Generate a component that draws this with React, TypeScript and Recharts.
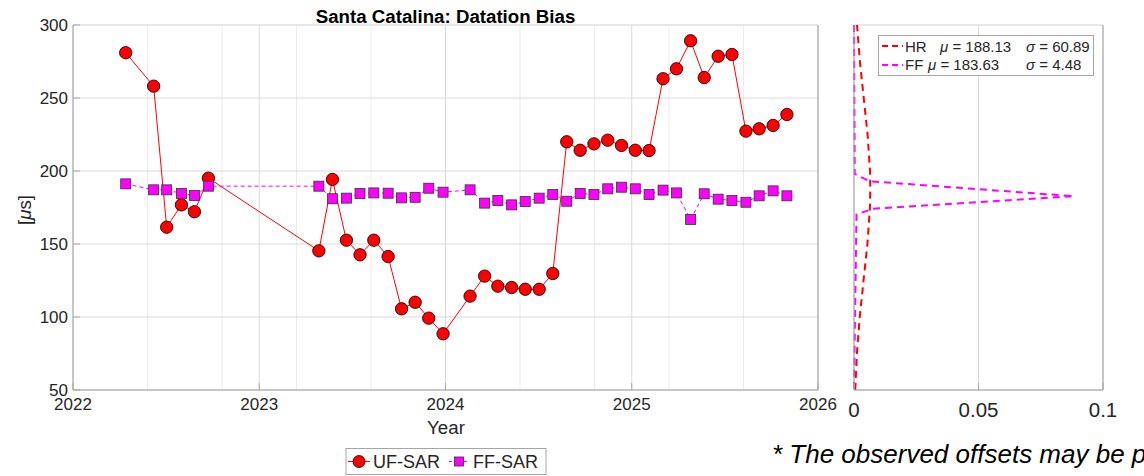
import { CartesianGrid, Line, LineChart, XAxis, YAxis } from "recharts";

// acquisition dates (decimal year) shared by both series
const dates = [
  2022.283, 2022.433, 2022.503, 2022.582, 2022.652, 2022.727, 2023.32, 2023.393,
  2023.468, 2023.541, 2023.615, 2023.692, 2023.764, 2023.837, 2023.91, 2023.987,
  2024.132, 2024.21, 2024.281, 2024.355, 2024.428, 2024.503, 2024.576, 2024.651,
  2024.723, 2024.797, 2024.871, 2024.945, 2025.019, 2025.093, 2025.168, 2025.24,
  2025.316, 2025.389, 2025.464, 2025.538, 2025.613, 2025.684, 2025.759, 2025.833,
];
const ufSar = [
  281.0, 258.1, 161.5, 176.8, 172.1, 195.1, 145.3, 194.2, 152.6, 142.6, 152.6, 141.4,
  105.6, 110.1, 99.2, 88.5, 114.3, 128.0, 121.1, 120.2, 119.0, 119.0, 129.8, 220.0,
  214.2, 218.6, 221.1, 217.5, 214.2, 214.0, 263.2, 270.0, 289.2, 264.0, 278.6, 279.8,
  227.3, 228.9, 231.2, 238.7,
];
const ffSar = [
  191.2, 187.1, 187.1, 184.6, 183.2, 189.6, 189.6, 181.0, 181.4, 184.6, 185.0, 184.8,
  181.6, 182.0, 188.2, 185.5, 187.1, 178.0, 179.8, 176.8, 179.1, 181.4, 183.9, 179.3,
  184.6, 183.9, 187.8, 188.9, 187.8, 183.9, 186.9, 185.0, 166.8, 184.4, 180.7, 179.8,
  178.6, 183.0, 186.4, 183.0,
];

const yearTicks = [2022, 2023, 2024, 2025, 2026];
const minorYearTicks = [
  2022, 2022.2, 2022.4, 2022.6, 2022.8, 2023, 2023.2, 2023.4, 2023.6, 2023.8, 2024,
  2024.2, 2024.4, 2024.6, 2024.8, 2025, 2025.2, 2025.4, 2025.6, 2025.8, 2026,
];
const biasTicks = [50, 100, 150, 200, 250, 300];
const minorBiasTicks = [
  50, 60, 70, 80, 90, 100, 110, 120, 130, 140, 150, 160, 170, 180, 190, 200, 210, 220,
  230, 240, 250, 260, 270, 280, 290, 300,
];
const densityTicks = [0, 0.05, 0.1];
const minorDensityTicks = [0, 0.01, 0.02, 0.03, 0.04, 0.05, 0.06, 0.07, 0.08, 0.09, 0.1];

// distribution curves
const hrLevels = [50, 75, 100, 125, 150, 175, 188, 200, 225, 250, 275, 300];
const hrDensity = [
  0.0005, 0.00117, 0.0023, 0.00383, 0.00538, 0.0064, 0.00655, 0.00643, 0.00545, 0.00391,
  0.00237, 0.00121,
];
const ffLevels = [300, 198, 193, 182.8, 174.2, 170.3, 50];
const ffDensity = [0, 0.0003, 0.0063, 0.0882, 0.0077, 0.001, 0];

const mainData = dates.map((t, i) => ({ t, uf: ufSar[i], ff: ffSar[i] }));
const hrCurve = hrLevels.map((y, i) => ({ y, d: hrDensity[i] }));
const ffCurve = ffLevels.map((y, i) => ({ y, d: ffDensity[i] }));

const font = "'Liberation Sans', Arial, sans-serif";
const axisColor = "#a6a6a6";
const textColor = "#262626";
const gridMajor = "#dadada";
const gridMinor = "#ebebeb";

const SquareDot = (props: any) => {
  const { cx, cy, index } = props;
  if (cx == null || cy == null) return <g key={`sq-${index}`} />;
  return (
    <rect
      key={`sq-${index}`}
      x={cx - 5}
      y={cy - 5}
      width={10}
      height={10}
      fill="#ff00ff"
      stroke="#333"
      strokeWidth={0.8}
    />
  );
};

export default function App() {
  return (
    <div
      style={{
        position: "fixed",
        left: 0,
        top: 0,
        width: 1144,
        height: 476,
        overflow: "hidden",
        background: "#fff",
        fontFamily: font,
      }}
    >
      <div style={{ position: "absolute", left: 0, top: 0 }}>
        <LineChart
          width={840}
          height={440}
          data={mainData}
          margin={{ top: 25, right: 0, bottom: 0, left: 0 }}
        >
          <XAxis xAxisId="minor" type="number" dataKey="t" domain={[2022, 2026]} ticks={minorYearTicks} hide />
          <YAxis yAxisId="minor" type="number" domain={[50, 300]} ticks={minorBiasTicks} hide />
          <CartesianGrid xAxisId="minor" yAxisId="minor" stroke={gridMinor} />
          <CartesianGrid stroke={gridMajor} />
          <XAxis
            type="number"
            dataKey="t"
            domain={[2022, 2026]}
            ticks={yearTicks}
            interval={0}
            height={50}
            stroke={axisColor}
            tickSize={-7}
            tickMargin={15}
            tick={{ fill: textColor, fontSize: 17, fontFamily: font }}
          />
          <XAxis
            xAxisId="top"
            orientation="top"
            type="number"
            dataKey="t"
            domain={[2022, 2026]}
            ticks={yearTicks}
            height={0}
            stroke={axisColor}
            tickSize={-7}
            tick={false}
          />
          <YAxis
            type="number"
            domain={[50, 300]}
            ticks={biasTicks}
            interval={0}
            width={73}
            stroke={axisColor}
            tickSize={-7}
            tickMargin={12}
            tick={{ fill: textColor, fontSize: 17, fontFamily: font }}
          />
          <YAxis
            yAxisId="right"
            orientation="right"
            type="number"
            domain={[50, 300]}
            ticks={biasTicks}
            width={22}
            stroke={axisColor}
            tickSize={-7}
            tick={false}
          />
          <Line
            dataKey="uf"
            stroke="#ff0000"
            strokeWidth={1}
            isAnimationActive={false}
            dot={{ r: 6.2, fill: "#ff0000", stroke: "#000", strokeWidth: 0.8 }}
          />
          <Line
            dataKey="ff"
            stroke="#ff00ff"
            strokeWidth={1}
            strokeDasharray="4 3"
            isAnimationActive={false}
            dot={SquareDot}
          />
        </LineChart>
      </div>

      <div style={{ position: "absolute", left: 830, top: 0 }}>
        <LineChart
          layout="vertical"
          width={300}
          height={440}
          margin={{ top: 25, right: 0, bottom: 0, left: 0 }}
        >
          <XAxis xAxisId="minor" type="number" domain={[0, 0.1]} ticks={minorDensityTicks} hide />
          <YAxis yAxisId="minor" type="number" dataKey="y" domain={[50, 300]} ticks={minorBiasTicks} reversed hide />
          <CartesianGrid xAxisId="minor" yAxisId="minor" stroke={gridMinor} />
          <CartesianGrid stroke={gridMajor} />
          <XAxis
            type="number"
            domain={[0, 0.1]}
            ticks={densityTicks}
            interval={0}
            height={50}
            stroke={axisColor}
            tickSize={-7}
            tickMargin={19}
            tick={{ fill: textColor, fontSize: 20.5, fontFamily: font }}
          />
          <XAxis
            xAxisId="top"
            orientation="top"
            type="number"
            domain={[0, 0.1]}
            ticks={densityTicks}
            height={0}
            stroke={axisColor}
            tickSize={-7}
            tick={false}
          />
          <YAxis
            type="number"
            dataKey="y"
            domain={[50, 300]}
            ticks={biasTicks}
            reversed
            width={24}
            stroke={axisColor}
            tickSize={-7}
            tick={false}
          />
          <YAxis
            yAxisId="right"
            orientation="right"
            type="number"
            dataKey="y"
            domain={[50, 300]}
            ticks={biasTicks}
            reversed
            width={27}
            stroke={axisColor}
            tickSize={-7}
            tick={false}
          />
          <Line
            data={hrCurve}
            dataKey="d"
            stroke="#ff0000"
            strokeWidth={2}
            strokeDasharray="7 5"
            dot={false}
            isAnimationActive={false}
          />
          <Line
            data={ffCurve}
            dataKey="d"
            stroke="#ff00ff"
            strokeWidth={2}
            strokeDasharray="7 5"
            dot={false}
            isAnimationActive={false}
          />
        </LineChart>
      </div>

      <svg
        width={1144}
        height={476}
        style={{ position: "absolute", left: 0, top: 0, pointerEvents: "none" }}
        fontFamily={font}
      >
        <text x={445.5} y={23} textAnchor="middle" fontSize={18.7} fontWeight="bold" fill="#000">
          Santa Catalina: Datation Bias
        </text>
        <text x={446} y={433.5} textAnchor="middle" fontSize={18.7} fill={textColor}>
          Year
        </text>
        <text transform="translate(31 210) rotate(-90)" textAnchor="middle" fontSize={18.7} fill={textColor}>
          [<tspan fontStyle="italic">μ</tspan>s]
        </text>

        {/* right panel legend */}
        <rect x={878.5} y={35.5} width={215} height={40} fill="#fff" stroke={axisColor} />
        <line x1={882} x2={903} y1={46} y2={46} stroke="#ff0000" strokeWidth={2} strokeDasharray="6 4" />
        <text x={905} y={51.5} fontSize={15} fill={textColor}>HR</text>
        <text x={940} y={51.5} fontSize={15} fill={textColor}>
          <tspan fontStyle="italic">μ</tspan> = 188.13
        </text>
        <text x={1026} y={51.5} fontSize={15} fill={textColor}>
          <tspan fontStyle="italic">σ</tspan> = 60.89
        </text>
        <line x1={882} x2={903} y1={65} y2={65} stroke="#ff00ff" strokeWidth={2} strokeDasharray="6 4" />
        <text x={905} y={70} fontSize={15} fill={textColor}>FF</text>
        <text x={928} y={70} fontSize={15} fill={textColor}>
          <tspan fontStyle="italic">μ</tspan> = 183.63
        </text>
        <text x={1026} y={70} fontSize={15} fill={textColor}>
          <tspan fontStyle="italic">σ</tspan> = 4.48
        </text>

        {/* bottom legend */}
        <rect x={346} y={448.5} width={200} height={26} fill="#fff" stroke={axisColor} />
        <line x1={348} x2={370} y1={461.5} y2={461.5} stroke="#ff0000" />
        <circle cx={359} cy={461.5} r={6} fill="#ff0000" stroke="#000" strokeWidth={0.8} />
        <text x={373} y={467.7} fontSize={18} fill={textColor}>UF-SAR</text>
        <line x1={449} x2={469} y1={461.5} y2={461.5} stroke="#ff00ff" strokeDasharray="3 2" />
        <rect x={454.5} y={457} width={9} height={9} fill="#ff00ff" stroke="#333" strokeWidth={0.8} />
        <text x={473} y={467.7} fontSize={18} fill={textColor}>FF-SAR</text>

        <text x={772} y={463} fontSize={26} fontStyle="italic" fill="#000">
          * The observed offsets may be p
        </text>
      </svg>
    </div>
  );
}
